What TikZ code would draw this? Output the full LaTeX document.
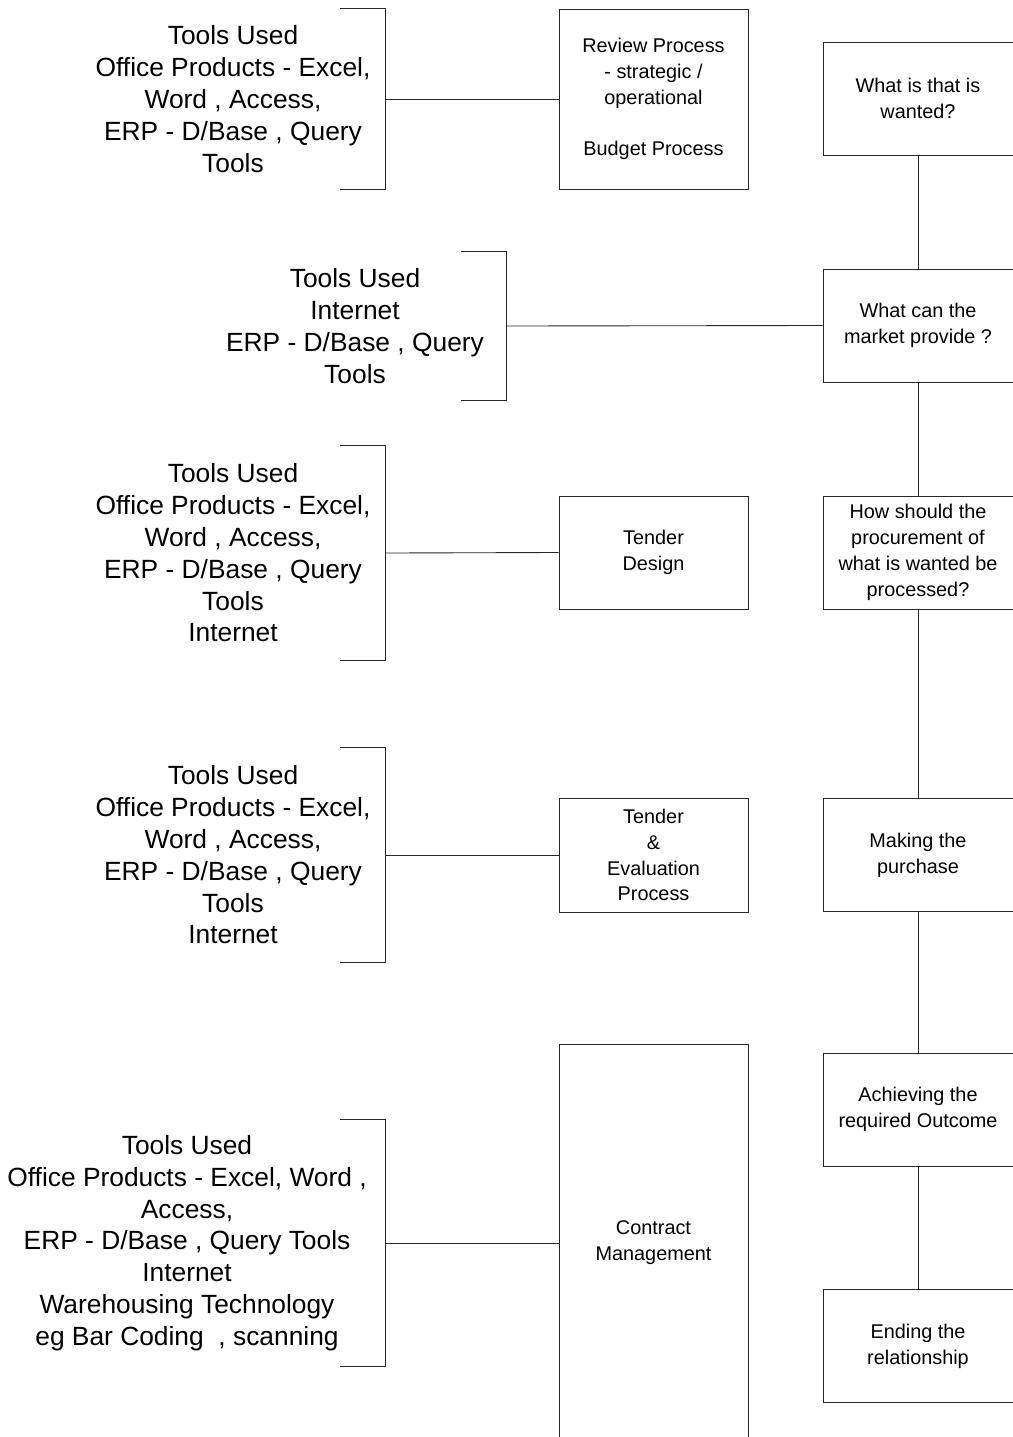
\documentclass[tikz,border=0pt]{standalone}
\usepackage{fontspec}
\setmainfont{Liberation Sans}
\usetikzlibrary{positioning}
\definecolor{LineGrey}{RGB}{40,40,40}

\tikzset{
  stage/.style={draw=LineGrey, line width=0.5pt, minimum width=3.8cm, minimum height=2.26cm, font=\fontsize{11.3}{14.7}\selectfont, align=center},
  task/.style={draw=LineGrey, line width=0.5pt, minimum width=3.78cm, font=\fontsize{11.3}{14.7}\selectfont, align=center},
  tools/.style={inner sep=0pt, font=\fontsize{15}{18.1}\selectfont, align=center},
  link/.style={draw=LineGrey, line width=0.5pt}
}

\begin{document}
\begin{tikzpicture}[x=0.02cm, y=-0.02cm]
  \useasboundingbox (0,0) rectangle (1012,1437);
  % procurement stages
  \node[stage] (want) at (918,98.5) {What is that is\\wanted?};
  \node[stage] (market) at (918,325.5) {What can the\\market provide ?};
  \node[stage] (how) at (918,552.5) {How should the\\procurement of\\what is wanted be\\processed?};
  \node[stage] (buy) at (918,855) {Making the\\purchase};
  \node[stage] (outcome) at (918,1109.5) {Achieving the\\required Outcome};
  \node[stage] (ending) at (918,1346) {Ending the\\relationship};
  \draw[link] (want) -- (market);
  \draw[link] (market) -- (how);
  \draw[link] (how) -- (buy);
  \draw[link] (buy) -- (outcome);
  \draw[link] (outcome) -- (ending);

  % processes
  \node[task, minimum height=3.6cm] (review) at (653.5,99) {Review Process\\- strategic /\\operational\\[14.7pt]Budget Process};
  \node[task, minimum height=2.26cm] (design) at (653.5,552.5) {Tender\\Design};
  \node[task, minimum height=2.28cm] (evaluation) at (653.5,855) {Tender\\\&\\Evaluation\\Process};
  \node[task, minimum height=7.96cm] (contract) at (653.5,1243) {Contract\\Management};

  % tools used
  \node[tools, minimum width=6.08cm, minimum height=3.62cm] (toolsA) at (233,99) {Tools Used\\Office Products - Excel,\\Word , Access,\\ERP - D/Base , Query\\Tools};
  \node[tools, minimum width=6.04cm, minimum height=2.96cm] (toolsB) at (355,326) {Tools Used\\Internet\\ERP - D/Base , Query\\Tools};
  \node[tools, minimum width=6.08cm, minimum height=4.28cm] (toolsC) at (233,553) {Tools Used\\Office Products - Excel,\\Word , Access,\\ERP - D/Base , Query\\Tools\\Internet};
  \node[tools, minimum width=6.08cm, minimum height=4.28cm] (toolsD) at (233,855) {Tools Used\\Office Products - Excel,\\Word , Access,\\ERP - D/Base , Query\\Tools\\Internet};
  \node[tools, minimum width=7.92cm, minimum height=4.92cm] (toolsE) at (187,1243) {Tools Used\\Office Products - Excel, Word ,\\Access,\\ERP - D/Base , Query Tools\\Internet\\Warehousing Technology\\eg Bar Coding\ \ , scanning};
  \foreach \t in {toolsA,toolsB,toolsC,toolsD,toolsE}
    \draw[link] ([xshift=-0.9cm]\t.north east) -- (\t.north east) -- (\t.south east) -- ([xshift=-0.9cm]\t.south east);

  \draw[link] (toolsA.east) -- (review.west);
  \draw[link] (toolsB.east) -- (market.west);
  \draw[link] (toolsC.east) -- (design.west);
  \draw[link] (toolsD.east) -- (evaluation.west);
  \draw[link] (toolsE.east) -- (contract.west);
\end{tikzpicture}
\end{document}
